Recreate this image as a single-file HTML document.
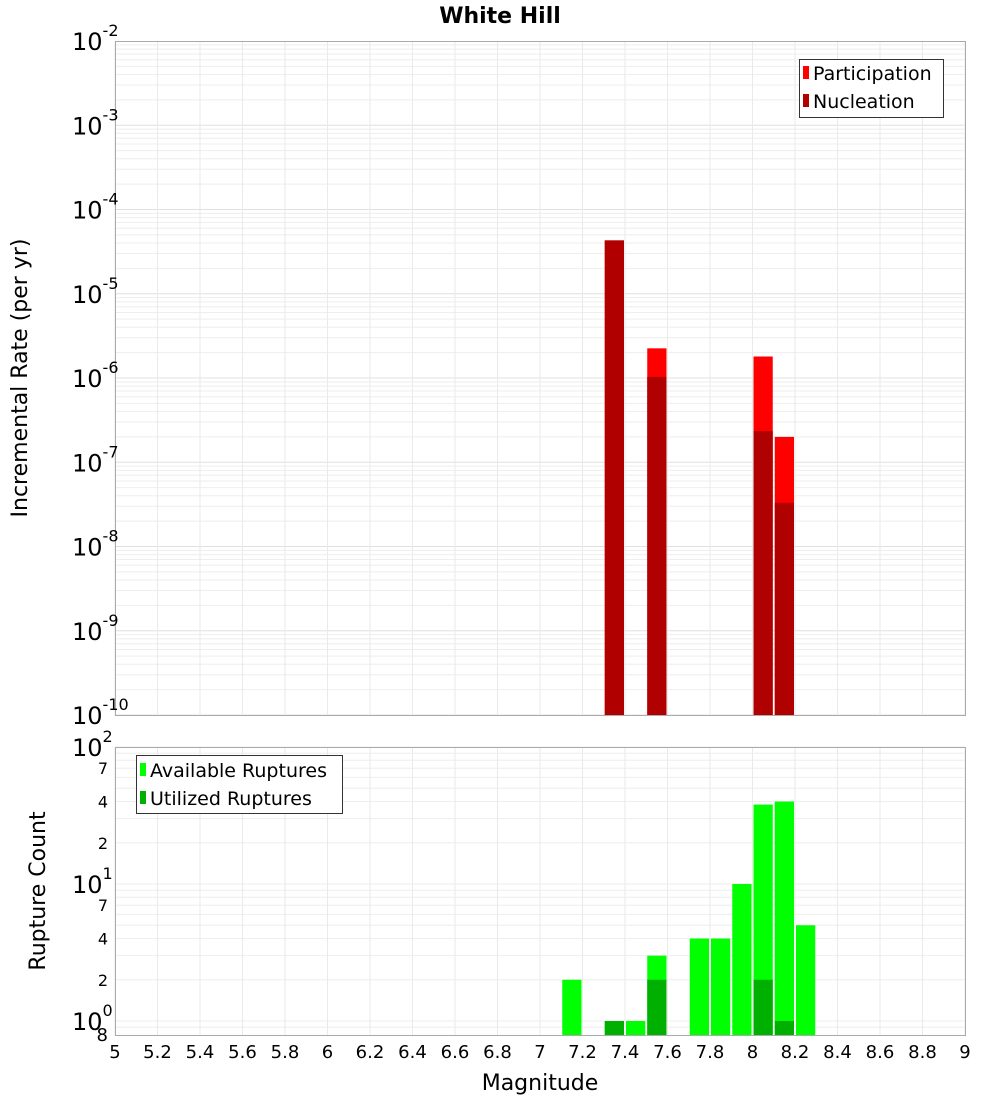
<!DOCTYPE html>
<html><head><meta charset="utf-8"><style>body{margin:0;background:#fff}svg{display:block;font-family:"Liberation Sans","DejaVu Sans",sans-serif}</style></head>
<body>
<svg id="chart" width="1000" height="1100" viewBox="0 0 1000 1100" xmlns="http://www.w3.org/2000/svg">
<text x="500" y="23" text-anchor="middle" font-size="22" font-weight="bold" font-family="DejaVu Sans, sans-serif">White Hill</text>
<g id="topPanel"></g><g id="botPanel"></g>
<text transform="translate(27,378) rotate(-90)" text-anchor="middle" font-size="22" font-family="DejaVu Sans, sans-serif">Incremental Rate (per yr)</text>
<text transform="translate(45,891) rotate(-90)" text-anchor="middle" font-size="22" font-family="DejaVu Sans, sans-serif">Rupture Count</text>
<text x="540" y="1090" text-anchor="middle" font-size="22" font-family="DejaVu Sans, sans-serif">Magnitude</text>
<g>
<rect x="799.5" y="59.5" width="144" height="58" fill="#fff" stroke="#333"/>
<rect x="803" y="66" width="6" height="13" fill="#ff0000"/>
<text x="813" y="80" font-size="19" font-family="DejaVu Sans, sans-serif">Participation</text>
<rect x="803" y="94" width="6" height="13" fill="#b00000"/>
<text x="813" y="108" font-size="19" font-family="DejaVu Sans, sans-serif">Nucleation</text>
</g>
<g>
<rect x="136.5" y="755.5" width="206" height="58" fill="#fff" stroke="#333"/>
<rect x="140" y="763" width="6" height="13" fill="#00ff00"/>
<text x="150" y="777" font-size="19" font-family="DejaVu Sans, sans-serif">Available Ruptures</text>
<rect x="140" y="791" width="6" height="13" fill="#00b000"/>
<text x="150" y="805" font-size="19" font-family="DejaVu Sans, sans-serif">Utilized Ruptures</text>
</g>
</svg>
<script>
const magBins=[7.35,7.55,8.05,8.15];
const participation=[4.3e-5,2.25e-6,1.8e-6,2.0e-7];
const nucleation=[4.3e-5,1.03e-6,2.35e-7,3.3e-8];
const countBins=[7.15,7.35,7.45,7.55,7.75,7.85,7.95,8.05,8.15,8.25];
const available=[2,1,1,3,4,4,10,38,40,5];
const utilized=[0,1,0,2,0,0,0,2,1,0];
const xTicks=[5,5.2,5.4,5.6,5.8,6,6.2,6.4,6.6,6.8,7,7.2,7.4,7.6,7.8,8,8.2,8.4,8.6,8.8,9];
const topDecades=[-10,-9,-8,-7,-6,-5,-4,-3,-2];
const botMinor=[7,4,2];
const NS="http://www.w3.org/2000/svg";
const X0=115,X1=965;
const x=m=>X0+(m-5)/4*(X1-X0);
const T0=41,T1=715;
const yT=v=>T0+(-2-Math.log10(v))/8*(T1-T0);
const B0=747,BD=137,B1=1035;
const yB=v=>1021-Math.log10(v)*BD;
function el(p,t,a){const e=document.createElementNS(NS,t);for(const k in a)e.setAttribute(k,a[k]);p.appendChild(e);return e;}
const topG=document.getElementById('topPanel'),botG=document.getElementById('botPanel');
el(topG,'rect',{x:X0+.5,y:T0+.5,width:X1-X0,height:T1-T0,fill:'#fff',stroke:'none'});
el(botG,'rect',{x:X0+.5,y:B0+.5,width:X1-X0,height:B1-B0,fill:'#fff',stroke:'none'});
for(let d=-10;d<-2;d++)for(let k=1;k<10;k++){const yy=yT(k*Math.pow(10,d));const g=el(topG,'line',{x1:X0,x2:X1,y1:yy,y2:yy,stroke:k==1?'#e0e0e0':'#eeeeee','stroke-width':1});

}
for(let d=0;d<3;d++)for(let k=1;k<10;k++){const v=k*Math.pow(10,d);if(v>100)continue;const yy=yB(v);if(yy>B1)continue;const g=el(botG,'line',{x1:X0,x2:X1,y1:yy,y2:yy,stroke:'#eeeeee'});

}
{const g=el(botG,'line',{x1:X0,x2:X1,y1:yB(0.9),y2:yB(0.9),stroke:'#eeeeee'});

}
xTicks.forEach(t=>{[topG,botG].forEach((p,i)=>{const g=el(p,'line',{x1:x(t),x2:x(t),y1:i?B0:T0,y2:i?B1:T1,stroke:'#eaeaea'});

});
const tx=el(botG,'text',{x:x(t),y:1058,'text-anchor':'middle','font-size':18,'font-family':'DejaVu Sans, sans-serif'});tx.textContent=String(t);

});
magBins.forEach((m,i)=>{const a=x(m-0.05)+1,w=x(m+0.05)-x(m-0.05)-2;
const r=el(topG,'rect',{x:a,y:yT(participation[i]),width:w,height:T1-yT(participation[i]),fill:'#ff0000'});


const n=el(topG,'rect',{x:a,y:yT(nucleation[i]),width:w,height:T1-yT(nucleation[i]),fill:'#b00000'});

});
countBins.forEach((m,i)=>{const a=x(m-0.05)+1,w=x(m+0.05)-x(m-0.05)-2;
if(available[i]>0){const r=el(botG,'rect',{x:a,y:yB(available[i]),width:w,height:B1-yB(available[i]),fill:'#00ff00'});

}
if(utilized[i]>0){const n=el(botG,'rect',{x:a,y:yB(utilized[i]),width:w,height:B1-yB(utilized[i]),fill:'#00b000'});

}});
el(topG,'rect',{x:X0+.5,y:T0+.5,width:X1-X0,height:T1-T0,fill:'none',stroke:'#aaa'});
el(botG,'rect',{x:X0+.5,y:B0+.5,width:X1-X0,height:B1-B0,fill:'none',stroke:'#aaa'});
topDecades.forEach(d=>{const yy=yT(Math.pow(10,d));const t=el(topG,'text',{x:72,y:yy+9,'font-size':24,'font-family':'DejaVu Sans, sans-serif'});


t.textContent='10';const s=el(t,'tspan',{dy:-14,'font-size':16});s.textContent=String(d);});
[0,1,2].forEach(d=>{const yy=yB(Math.pow(10,d));const t=el(botG,'text',{x:72,y:yy+9,'font-size':24,'font-family':'DejaVu Sans, sans-serif'});


t.textContent='10';const s=el(t,'tspan',{dy:-14,'font-size':16});s.textContent=String(d);
if(d<2)botMinor.forEach(k=>{const v=k*Math.pow(10,d);const m=el(botG,'text',{x:108,y:yB(v)+6,'text-anchor':'end','font-size':16,'font-family':'DejaVu Sans, sans-serif'});m.textContent=String(k);

});});
{const m=el(botG,'text',{x:108,y:1041,'text-anchor':'end','font-size':18,'font-family':'DejaVu Sans, sans-serif'});m.textContent='8';

}
</script>
</body></html>
